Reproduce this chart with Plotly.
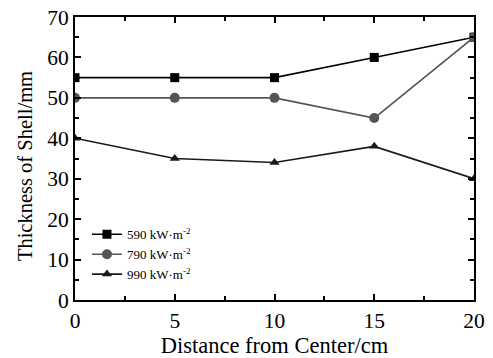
import plotly.graph_objects as go

distance = [0, 5, 10, 15, 20]
s590 = [55, 55, 55, 60, 65]
s790 = [50, 50, 50, 45, 65]
s990 = [40, 35, 34, 38, 30]
names = ["590 kW·m<sup>-2</sup>", "790 kW·m<sup>-2</sup>", "990 kW·m<sup>-2</sup>"]

fig = go.Figure()
fig.add_trace(go.Scatter(x=distance, y=s590, name=names[0], mode="lines+markers",
                         line=dict(color="#000000", width=1.6),
                         marker=dict(symbol="square", size=9, color="#000000")))
fig.add_trace(go.Scatter(x=distance, y=s790, name=names[1], mode="lines+markers",
                         line=dict(color="#555555", width=1.6),
                         marker=dict(symbol="circle", size=10, color="#555555")))
fig.add_trace(go.Scatter(x=distance, y=s990, name=names[2], mode="lines+markers",
                         line=dict(color="#1a1a1a", width=1.6),
                         marker=dict(symbol="triangle-up", size=9, color="#1a1a1a")))

axis_common = dict(showgrid=False, zeroline=False, showline=True, linecolor="black",
                   linewidth=2, mirror="allticks", ticks="inside", ticklen=6,
                   tickwidth=1.5, tickcolor="black", automargin=False,
                   tickfont=dict(family="Liberation Serif", size=21.5, color="black"))
fig.update_xaxes(range=[0, 20], dtick=5, tick0=0,
                 title=dict(text="Distance from Center/cm",
                            font=dict(family="Liberation Serif", size=22.5, color="black")),
                 minor=dict(ticks="inside", dtick=2.5, ticklen=4, tickcolor="black", tickwidth=1.5),
                 **axis_common)
fig.update_yaxes(range=[0, 70], dtick=10, tick0=0,
                 minor=dict(ticks="inside", dtick=5, ticklen=4, tickcolor="black", tickwidth=1.5),
                 **axis_common)

fig.add_annotation(text="Thickness of Shell/mm", textangle=-90, showarrow=False,
                   xref="paper", yref="paper", x=-0.125, y=0.4735,
                   xanchor="center", yanchor="middle",
                   font=dict(family="Liberation Serif", size=20.5, color="black"))

fig.update_layout(width=493, height=358, margin=dict(l=75, r=19, t=17, b=58),
                  plot_bgcolor="white", paper_bgcolor="white",
                  legend=dict(x=0.03, y=0.285, xanchor="left", yanchor="top",
                              bgcolor="rgba(0,0,0,0)", tracegroupgap=0,
                              font=dict(family="Liberation Serif", size=13, color="black")))
fig.write_html("out.html")
